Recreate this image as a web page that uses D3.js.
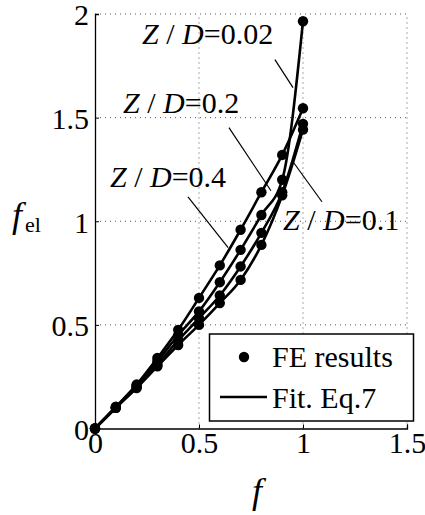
<!DOCTYPE html>
<html>
<head>
<meta charset="utf-8">
<script src="https://cdn.jsdelivr.net/npm/d3@7"></script>
<style>
  body { margin: 0; background: #fff; }
  svg text { font-family: "Liberation Serif", "Times New Roman", serif !important; fill: #000; }
  .grid line { stroke: #555; stroke-width: 1; stroke-dasharray: 1,4; }
  .curve { fill: none; stroke: #000; stroke-width: 2.6; }
  .pointer { stroke: #000; stroke-width: 1.2; }
</style>
</head>
<body>
<svg width="425" height="515"></svg>
<script>
// f values (FE sample points)
var fValues = [0, 0.1, 0.2, 0.3, 0.4, 0.5, 0.6, 0.7, 0.8, 0.9, 1.0];

// f_el for each Z/D
var zd04  = [0, 0.105, 0.212, 0.34, 0.476, 0.63, 0.787, 0.959, 1.14, 1.32, 1.545];
var zd002 = [0, 0.1, 0.205, 0.325, 0.45, 0.565, 0.706, 0.862, 1.03, 1.20, 1.965];
var zd02  = [0, 0.1, 0.2, 0.31, 0.425, 0.532, 0.642, 0.782, 0.944, 1.14, 1.47];
var zd01  = [0, 0.1, 0.195, 0.30, 0.403, 0.50, 0.605, 0.717, 0.886, 1.125, 1.442];

var xTicks = [0, 0.5, 1, 1.5];
var yTicks = [0, 0.5, 1, 1.5, 2];

// annotation labels: text position and pointer line ends (data units)
var annotations = [
  {zd: "0.02", tx: 0.226, ty: 1.853, x1: 0.865, y1: 1.78,  x2: 0.952, y2: 1.645},
  {zd: "0.2",  tx: 0.135, ty: 1.524, x1: 0.644, y1: 1.452, x2: 0.846, y2: 1.147},
  {zd: "0.4",  tx: 0.072, ty: 1.167, x1: 0.447, y1: 1.118, x2: 0.64,  y2: 0.873},
  {zd: "0.1",  tx: 0.904, ty: 0.959, x1: 1.091, y1: 1.094, x2: 0.952, y2: 1.287}
];

var svg = d3.select("svg");

var x = d3.scaleLinear().domain([0, 1.5]).range([95, 407]);
var y = d3.scaleLinear().domain([0, 2]).range([428.5, 14]);

// dotted grid (also acts as top/right edge)
var grid = svg.append("g").attr("class", "grid");
grid.selectAll(".gx").data(xTicks.filter(function(d) { return d > 0; }))
  .enter().append("line")
  .attr("x1", function(d) { return x(d); }).attr("x2", function(d) { return x(d); })
  .attr("y1", y(0)).attr("y2", y(2));
grid.selectAll(".gy").data(yTicks.filter(function(d) { return d > 0; }))
  .enter().append("line")
  .attr("x1", x(0)).attr("x2", x(1.5))
  .attr("y1", function(d) { return y(d); }).attr("y2", function(d) { return y(d); });

// axes
var xAxis = svg.append("g")
  .attr("transform", "translate(0," + y(0) + ")")
  .call(d3.axisBottom(x).tickValues(xTicks).tickSize(-4).tickPadding(10).tickFormat(d3.format("")));
var yAxis = svg.append("g")
  .attr("transform", "translate(" + x(0) + ",0)")
  .call(d3.axisLeft(y).tickValues(yTicks).tickSize(-4).tickPadding(6).tickFormat(d3.format("")));

[xAxis, yAxis].forEach(function(a) {
  a.select(".domain").attr("stroke", "#000").attr("stroke-width", 1.3);
  a.selectAll(".tick line").attr("stroke", "#000");
  a.selectAll("text").attr("font-size", 30);
});
xAxis.selectAll("text").attr("dy", "0.71em").attr("y", 3);
yAxis.selectAll("text").attr("dy", "0.36em");

// annotations
var ann = svg.append("g");
ann.selectAll("line").data(annotations).enter().append("line")
  .attr("class", "pointer")
  .attr("x1", function(d) { return x(d.x1); }).attr("y1", function(d) { return y(d.y1); })
  .attr("x2", function(d) { return x(d.x2); }).attr("y2", function(d) { return y(d.y2); });

var labels = ann.selectAll("text").data(annotations).enter().append("text")
  .attr("x", function(d) { return x(d.tx); })
  .attr("y", function(d) { return y(d.ty); })
  .attr("font-size", 30);
labels.append("tspan").attr("font-style", "italic").text("Z");
labels.append("tspan").text(" / ");
labels.append("tspan").attr("font-style", "italic").text("D");
labels.append("tspan").text("=");
labels.append("tspan").text(function(d) { return d.zd; });

// curves and points
var series = [zd04, zd002, zd02, zd01];
var line = d3.line()
  .x(function(d, i) { return x(fValues[i]); })
  .y(function(d) { return y(d); })
  .curve(d3.curveMonotoneX);

svg.append("g").selectAll("path").data(series).enter().append("path")
  .attr("class", "curve")
  .attr("d", line);

series.forEach(function(s) {
  svg.append("g").selectAll("circle").data(s).enter().append("circle")
    .attr("cx", function(d, i) { return x(fValues[i]); })
    .attr("cy", function(d) { return y(d); })
    .attr("r", 5.2)
    .attr("fill", "#000");
});

// legend
var legend = svg.append("g");
legend.append("rect")
  .attr("x", 209.5).attr("y", 334).attr("width", 204).attr("height", 87)
  .attr("fill", "#fff").attr("stroke", "#000").attr("stroke-width", 1.5);
legend.append("circle").attr("cx", 244).attr("cy", 357).attr("r", 5.2).attr("fill", "#000");
legend.append("line").attr("x1", 220).attr("x2", 267).attr("y1", 397).attr("y2", 397)
  .attr("stroke", "#000").attr("stroke-width", 2.6);
legend.append("text").attr("x", 272).attr("y", 367).attr("font-size", 30).text("FE results");
legend.append("text").attr("x", 272).attr("y", 408).attr("font-size", 30).text("Fit. Eq.7");

// axis labels
svg.append("text").attr("x", 257).attr("y", 503).attr("text-anchor", "middle")
  .attr("font-size", 36).attr("font-style", "italic").text("f");
var yl = svg.append("text").attr("x", 12).attr("y", 227).attr("font-size", 36);
yl.append("tspan").attr("font-style", "italic").text("f");
yl.append("tspan").attr("font-size", 22).attr("dy", 5).attr("dx", 3).text("el");
</script>
</body>
</html>
